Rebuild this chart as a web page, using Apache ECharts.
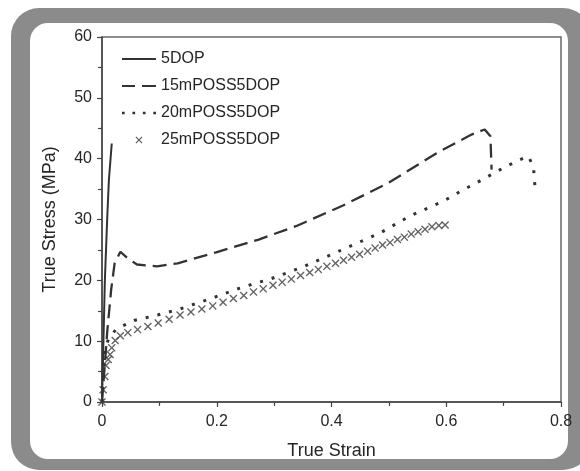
<!DOCTYPE html>
<html>
<head>
<meta charset="utf-8">
<script src="https://cdn.jsdelivr.net/npm/echarts/dist/echarts.min.js"></script>
<style>
html,body{margin:0;padding:0;background:#fff;}
#chart{width:580px;height:471px;}
</style>
</head>
<body>
<div id="chart"></div>
<script>
// ---- data ----
const seriesNames = ['5DOP', '15mPOSS5DOP', '20mPOSS5DOP', '25mPOSS5DOP'];
const xTicks = [0, 0.2, 0.4, 0.6, 0.8];
const yTicks = [0, 10, 20, 30, 40, 50, 60];

const strain5DOP = [0, 0.002, 0.005, 0.009, 0.012, 0.017];
const stress5DOP = [0, 8, 20, 30, 36.5, 42.5];

const strain15 = [0, 0.004, 0.009, 0.016, 0.022, 0.032, 0.045, 0.061, 0.096, 0.132, 0.199, 0.273, 0.338, 0.42, 0.499, 0.583, 0.645, 0.667, 0.677, 0.679];
const stress15 = [0, 5, 11.4, 18.5, 22.8, 24.7, 23.6, 22.6, 22.3, 22.8, 24.6, 26.7, 28.9, 32.3, 36.0, 40.9, 44.0, 44.8, 43.7, 38.2];

const strain20 = [0, 0.003, 0.006, 0.012, 0.025, 0.056, 0.097, 0.136, 0.193, 0.233, 0.27, 0.29, 0.35, 0.406, 0.485, 0.537, 0.595, 0.63, 0.668, 0.688, 0.723, 0.743, 0.752, 0.755];
const stress20 = [0, 5, 9, 10.5, 12.0, 13.4, 14.3, 15.3, 17.1, 18.5, 19.6, 20.1, 22.2, 24.5, 27.8, 30.6, 33.0, 34.9, 36.8, 37.9, 39.6, 40.4, 38.7, 34.9];

const strain25 = [0, 0.002, 0.005, 0.007, 0.011, 0.014, 0.017, 0.023, 0.032, 0.045, 0.062, 0.08, 0.098, 0.117, 0.136, 0.155, 0.174, 0.193, 0.211, 0.229, 0.247, 0.264, 0.281, 0.298, 0.314, 0.330, 0.346, 0.362, 0.377, 0.392, 0.407, 0.421, 0.435, 0.449, 0.463, 0.476, 0.489, 0.502, 0.515, 0.527, 0.539, 0.551, 0.563, 0.575, 0.587, 0.598];
const stress25 = [0, 2.0, 4.2, 6.0, 7.0, 7.8, 8.9, 10.1, 10.9, 11.4, 11.9, 12.4, 13.0, 13.6, 14.3, 14.8, 15.3, 15.8, 16.4, 17.0, 17.5, 18.1, 18.6, 19.2, 19.7, 20.2, 20.8, 21.3, 21.8, 22.3, 22.8, 23.3, 23.8, 24.3, 24.8, 25.3, 25.8, 26.2, 26.7, 27.1, 27.6, 28.0, 28.4, 28.8, 29.0, 29.1];

function pairs(xs, ys) { return xs.map((x, i) => [x, ys[i]]); }

const FONT = '"Liberation Sans", Arial, Helvetica, sans-serif';
const INK = '#333333';
const TXT = '#262626';
const XMARK = 'path://M0,1.2L1.2,0L5,3.8L8.8,0L10,1.2L6.2,5L10,8.8L8.8,10L5,6.2L1.2,10L0,8.8L3.8,5Z';
// legend icons (kept within aspect-preserving boxes)
const ICON_SOLID = 'path://M0,0H34V2H0Z';
const ICON_DASH = 'path://M0,0H13V2.2H0Z M20,0H34V2.2H20Z';
const ICON_DOT = 'path://M0,0H2.6V2.6H0Z M10,0H12.6V2.6H10Z M20,0H22.6V2.6H20Z M30,0H32.6V2.6H30Z';
const ICON_X = 'path://M0,0L0.01,0L0,0.01Z M20,20L19.99,20L20,19.99Z M5,6.2L6.2,5L10,8.8L13.8,5L15,6.2L11.2,10L15,13.8L13.8,15L10,11.2L6.2,15L5,13.8L8.8,10Z';

const chart = echarts.init(document.getElementById('chart'), null, {renderer: 'canvas'});
chart.setOption({
  backgroundColor: '#ffffff',
  animation: false,
  graphic: {
    elements: [
      {type: 'rect', z: -20, shape: {x: 11, y: 8, width: 580, height: 462, r: 28}, style: {fill: '#8b8b8b'}},
      {type: 'rect', z: -19, shape: {x: 30, y: 23, width: 538, height: 436, r: 18}, style: {fill: '#ffffff'}}
    ]
  },
  grid: {left: 102, top: 37, right: 19, bottom: 69, show: true, borderColor: '#6a6a6a', borderWidth: 1.5, backgroundColor: 'transparent'},
  legend: {
    orient: 'vertical', left: 117, top: 46,
    itemWidth: 34, itemHeight: 14, itemGap: 11,
    symbolKeepAspect: true,
    itemStyle: {color: INK, borderWidth: 0},
    textStyle: {fontFamily: FONT, fontSize: 16, color: TXT, padding: [0, 0, 0, 0]},
    data: [
      {name: seriesNames[0], icon: ICON_SOLID},
      {name: seriesNames[1], icon: ICON_DASH},
      {name: seriesNames[2], icon: ICON_DOT},
      {name: seriesNames[3], icon: ICON_X}
    ]
  },
  xAxis: {
    type: 'value', min: 0, max: 0.8, interval: 0.2,
    name: 'True Strain', nameLocation: 'middle', nameGap: 40,
    nameTextStyle: {fontFamily: FONT, fontSize: 18, color: TXT},
    axisLine: {show: true, onZero: false, lineStyle: {color: '#444', width: 1.5}},
    axisTick: {show: true, inside: false, length: 5, lineStyle: {color: '#444', width: 1.2}},
    minorTick: {show: true, splitNumber: 2, length: 4, lineStyle: {color: '#444', width: 1.2}},
    splitLine: {show: false},
    axisLabel: {fontFamily: FONT, fontSize: 16, color: TXT, margin: 12,
      formatter: v => { const t = xTicks.find(k => Math.abs(k - v) < 1e-9); return t === undefined ? '' : String(t); }}
  },
  yAxis: {
    type: 'value', min: 0, max: 60, interval: 10,
    name: 'True Stress (MPa)', nameLocation: 'middle', nameGap: 43,
    nameTextStyle: {fontFamily: FONT, fontSize: 18, color: TXT},
    axisLine: {show: true, onZero: false, lineStyle: {color: '#444', width: 1.5}},
    axisTick: {show: true, inside: false, length: 5, lineStyle: {color: '#444', width: 1.2}},
    minorTick: {show: true, splitNumber: 2, length: 4, lineStyle: {color: '#444', width: 1.2}},
    splitLine: {show: false},
    axisLabel: {fontFamily: FONT, fontSize: 16, color: TXT, margin: 10,
      formatter: v => { const t = yTicks.find(k => Math.abs(k - v) < 1e-9); return t === undefined ? '' : String(t); }}
  },
  series: [
    {name: seriesNames[0], type: 'line', symbol: 'none', data: pairs(strain5DOP, stress5DOP),
      lineStyle: {color: INK, width: 2, type: 'solid'}, itemStyle: {color: INK}},
    {name: seriesNames[1], type: 'line', symbol: 'none', data: pairs(strain15, stress15),
      lineStyle: {color: INK, width: 2.3, type: [14, 7]}, itemStyle: {color: INK}},
    {name: seriesNames[2], type: 'line', symbol: 'none', data: pairs(strain20, stress20),
      lineStyle: {color: INK, width: 3, type: [3, 9]}, itemStyle: {color: INK}},
    {name: seriesNames[3], type: 'scatter', symbol: XMARK, symbolSize: 8, data: pairs(strain25, stress25),
      itemStyle: {color: '#3c3c3c'}}
  ]
});
</script>
</body>
</html>
